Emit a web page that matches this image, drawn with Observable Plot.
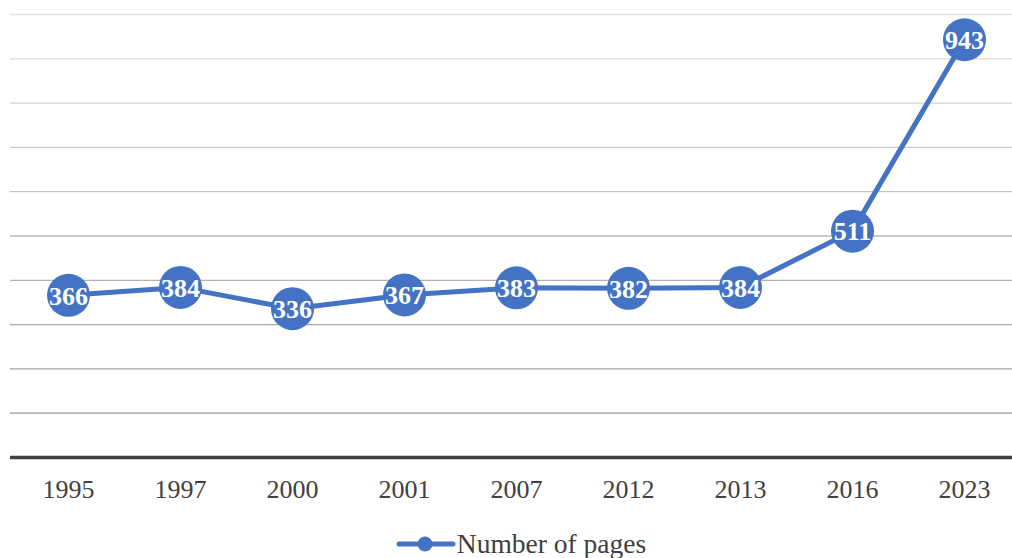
<!DOCTYPE html>
<html>
<head>
<meta charset="utf-8">
<script src="https://cdn.jsdelivr.net/npm/d3@7"></script>
<script src="https://cdn.jsdelivr.net/npm/@observablehq/plot@0.6"></script>
<style>
  html, body { margin: 0; padding: 0; background: #fff; }
  #chart { width: 1012px; height: 515px; }
  #legend { height: 43px; display: flex; justify-content: center; align-items: center; font-family: "Liberation Serif", "Times New Roman", serif; font-size: 27.5px; color: #404040; padding-left: 30px; padding-top: 14px; box-sizing: border-box; }
</style>
</head>
<body>
<div id="chart"></div>
<div id="legend"></div>
<script>
const years = ["1995", "1997", "2000", "2001", "2007", "2012", "2013", "2016", "2023"];
const pages = [366, 384, 336, 367, 383, 382, 384, 511, 943];
const gridValues = [100, 200, 300, 400, 500, 600, 700, 800, 900, 1000];
const seriesName = "Number of pages";

const data = years.map((y, i) => ({year: y, pages: pages[i]}));
const blue = "#4472C4";
const gridColor = d3.scaleLinear().domain([100, 1000]).range(["#999999", "#e2e2e2"]);

const chart = Plot.plot({
  width: 1012,
  height: 515,
  marginLeft: 10,
  marginRight: 0,
  marginTop: 14,
  marginBottom: 58,
  style: {fontFamily: "'Liberation Serif', 'Times New Roman', serif", background: "#fff", overflow: "visible"},
  x: {type: "point", domain: years, range: [66, 966], padding: 0, label: null},
  y: {domain: [0, 1000], axis: null},
  marks: [
    Plot.ruleY(gridValues, {stroke: d => gridColor(d), strokeWidth: 1.3}),
    Plot.ruleY([0], {stroke: "#404040", strokeWidth: 3.5}),
    Plot.axisX({tickSize: 0, tickPadding: 22, fontSize: 26, color: "#404040", label: null}),
    Plot.line(data, {x: "year", y: "pages", stroke: blue, strokeWidth: 5, strokeLinejoin: "round"}),
    Plot.dot(data, {x: "year", y: "pages", r: 21.5, fill: blue, stroke: "none"}),
    Plot.text(data, {x: "year", y: "pages", text: d => String(d.pages), fill: "white", fontSize: 26, fontWeight: "bold", dy: 1})
  ]
});
document.getElementById("chart").appendChild(chart);

const legend = document.getElementById("legend");
legend.innerHTML = `<svg width="60" height="20" style="margin-right:1px"><line x1="3" y1="10" x2="57" y2="10" stroke="${blue}" stroke-width="5" stroke-linecap="round"/><circle cx="29" cy="10" r="7.5" fill="${blue}"/></svg><span>${seriesName}</span>`;
</script>
</body>
</html>
